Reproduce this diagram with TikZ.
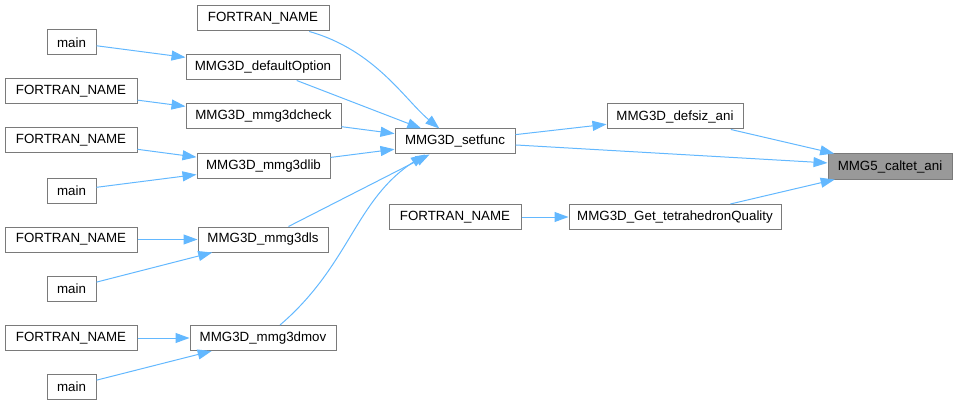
\documentclass[tikz,border=0pt]{standalone}
\usepackage{fontspec}
\setmainfont{Liberation Sans}
\usetikzlibrary{arrows.meta}
\definecolor{edgeblue}{HTML}{63B8FF}
\definecolor{boxgray}{HTML}{7A7A7A}
\definecolor{hlgray}{HTML}{999999}

\begin{document}
\begin{tikzpicture}[x=1pt,y=-1pt,font=\fontsize{13.33}{16}\selectfont,
  >={Triangle[length=14pt,width=10pt]}]
\tikzstyle{fn}=[draw=boxgray,fill=white,line width=1pt,minimum height=25pt,inner sep=0pt]
\tikzstyle{hl}=[fn,fill=hlgray]
\tikzstyle{cl}=[->,draw=edgeblue,line width=1pt]
\useasboundingbox (0,0) rectangle (957,406);
% callers, left column
\node[fn,minimum width=49pt] (m1) at (71.5,42.5) {main};
\node[fn,minimum width=132pt] (f2) at (71,91.5) {FORTRAN\_NAME};
\node[fn,minimum width=132pt] (f3) at (71,140.5) {FORTRAN\_NAME};
\node[fn,minimum width=49pt] (m2) at (71.5,190.5) {main};
\node[fn,minimum width=132pt] (f4) at (71,239.5) {FORTRAN\_NAME};
\node[fn,minimum width=49pt] (m3) at (71.5,288.5) {main};
\node[fn,minimum width=132pt] (f5) at (71,338) {FORTRAN\_NAME};
\node[fn,minimum width=49pt] (m4) at (71.5,386.5) {main};
% second column
\node[fn,minimum width=132pt] (f1) at (263,18.5) {FORTRAN\_NAME};
\node[fn,minimum width=154pt] (defopt) at (263,67.5) {MMG3D\_defaultOption};
\node[fn,minimum width=155pt] (check) at (263.5,116.5) {MMG3D\_mmg3dcheck};
\node[fn,minimum width=133pt] (lib) at (263.5,166) {MMG3D\_mmg3dlib};
\node[fn,minimum width=130pt] (ls) at (263,239.5) {MMG3D\_mmg3dls};
\node[fn,minimum width=146pt] (mov) at (263,338) {MMG3D\_mmg3dmov};
% third and fourth column
\node[fn,minimum width=120pt] (setfunc) at (455,141.5) {MMG3D\_setfunc};
\node[fn,minimum width=132pt] (f6) at (455,217) {FORTRAN\_NAME};
\node[fn,minimum width=136pt] (defsiz) at (675,116.5) {MMG3D\_defsiz\_ani};
\node[fn,minimum width=212pt] (gettet) at (675,217) {MMG3D\_Get\_tetrahedronQuality};
\node[hl,minimum width=124pt] (caltet) at (890,166.5) {MMG5\_caltet\_ani};
% calls
\draw[cl] (m1) -- (defopt);
\draw[cl] (f2) -- (check);
\draw[cl] (f3) -- (lib);
\draw[cl] (m2) -- (lib);
\draw[cl] (f4) -- (ls);
\draw[cl] (m3) -- (ls);
\draw[cl] (f5) -- (mov);
\draw[cl] (m4) -- (mov);
\draw[cl] (f1) .. controls (375,50) and (405,100) .. (setfunc);
\draw[cl] (defopt) -- (setfunc);
\draw[cl] (check) -- (setfunc);
\draw[cl] (lib) -- (setfunc);
\draw[cl] (ls) -- (setfunc);
\draw[cl] ([xshift=17pt]mov.north) .. controls (350,265) and (355,200)
  .. ([xshift=-30pt]setfunc.south);
\draw[cl] (setfunc) -- (defsiz);
\draw[cl] (setfunc) -- (caltet);
\draw[cl] (f6) -- (gettet);
\draw[cl] (defsiz) -- (caltet);
\draw[cl] (gettet) -- (caltet);
\end{tikzpicture}
\end{document}
